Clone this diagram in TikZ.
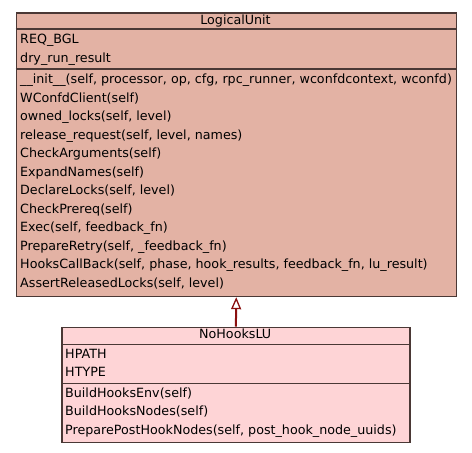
\documentclass[tikz,border=0pt]{standalone}
\usepackage{fontspec}
\setmainfont{DejaVu Sans}
\usetikzlibrary{arrows.meta}
\definecolor{lufill}{HTML}{E3B2A4}
\definecolor{nhfill}{HTML}{FED4D6}
\definecolor{umlline}{HTML}{4A3835}
\definecolor{inherit}{HTML}{8B1010}
\begin{document}
\begin{tikzpicture}[x=1pt, y=-1pt,
  classbox/.style={draw=umlline, line width=1.5pt, anchor=north west, inner sep=0pt},
  member/.style={anchor=base west, inner sep=0pt, font=\fontsize{12.7}{14}\selectfont},
  title/.style={anchor=base, inner sep=0pt, font=\fontsize{12.7}{14}\selectfont}]
\useasboundingbox (0,0) rectangle (472,453);

% Base class
\node[classbox, fill=lufill, minimum width=440pt, minimum height=283.7pt] (LU) at (15.5,12) {};
\draw[umlline, line width=1.5pt] (15.5,29) -- (455.5,29);
\draw[umlline, line width=1.5pt] (15.5,69) -- (455.5,69);
\node[title] (LUname) at (235.5,24.5) {LogicalUnit};
\node[member] (LUa1) at (20,43.3) {REQ\_BGL};
\node[member] (LUa2) at (20,62.3) {dry\_run\_result};
\foreach \m [count=\i from 0] in {%
  {\_\_init\_\_(self, processor, op, cfg, rpc\_runner, wconfdcontext, wconfd)},
  {WConfdClient(self)},
  {owned\_locks(self, level)},
  {release\_request(self, level, names)},
  {CheckArguments(self)},
  {ExpandNames(self)},
  {DeclareLocks(self, level)},
  {CheckPrereq(self)},
  {Exec(self, feedback\_fn)},
  {PrepareRetry(self, \_feedback\_fn)},
  {HooksCallBack(self, phase, hook\_results, feedback\_fn, lu\_result)},
  {AssertReleasedLocks(self, level)}}
  \node[member] (LUm\i) at (20,83.8+18.5*\i) {\m};

% Derived class
\node[classbox, fill=nhfill, minimum width=347.7pt, minimum height=115pt] (NH) at (61.3,326.7) {};
\draw[umlline, line width=1.5pt] (61.3,344.3) -- (409,344.3);
\draw[umlline, line width=1.5pt] (61.3,383.7) -- (409,383.7);
\node[title] (NHname) at (235.2,338.3) {NoHooksLU};
\node[member] (NHa1) at (65,358.3) {HPATH};
\node[member] (NHa2) at (65,376.7) {HTYPE};
\foreach \m [count=\i from 0] in {%
  {BuildHooksEnv(self)},
  {BuildHooksNodes(self)},
  {PreparePostHookNodes(self, post\_hook\_node\_uuids)}}
  \node[member] (NHm\i) at (65,397.3+18.4*\i) {\m};

% Inheritance
\draw[inherit, line width=2pt, -{Triangle[open, length=12pt, width=10pt, line width=1.3pt, fill=white]}] (NH.north) -- (LU.south);

\end{tikzpicture}
\end{document}
